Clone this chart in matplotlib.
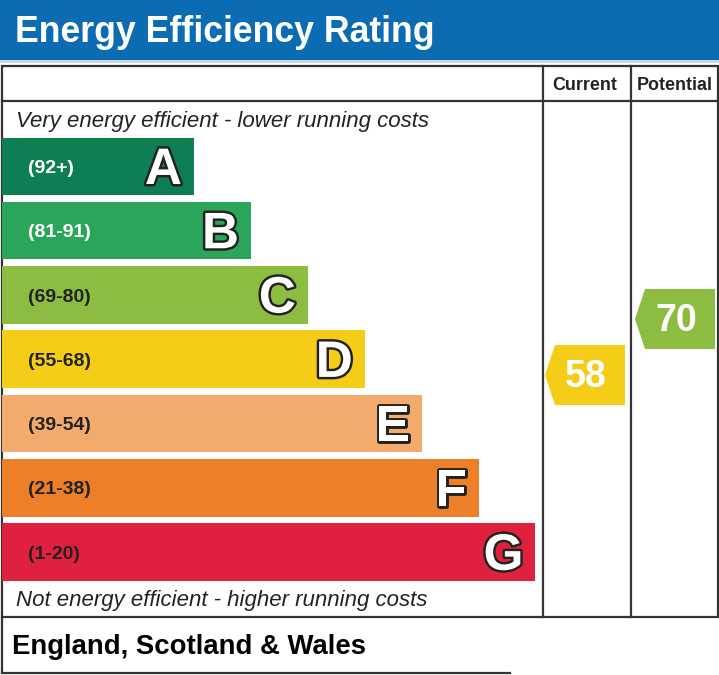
import matplotlib
matplotlib.use('Agg')
import matplotlib.pyplot as plt
from matplotlib.patches import Rectangle, Polygon
import matplotlib.patheffects as pe

# bandas EPC
LETTERS = ["A", "B", "C", "D", "E", "F", "G"]
RANGES = ["(92+)", "(81-91)", "(69-80)", "(55-68)", "(39-54)", "(21-38)", "(1-20)"]
COLORS = ["#0e7f52", "#2aa55a", "#8cbd41", "#f5cc17", "#f3aa6d", "#ec7f28", "#e0213d"]
RANGE_TEXT_COLORS = ["white", "white", "#222222", "#222222", "#222222", "#222222", "#222222"]

CURRENT = 58
POTENTIAL = 70
CURRENT_COLOR = "#f5cc17"
POTENTIAL_COLOR = "#8cbd41"

TITLE = "Energy Efficiency Rating"
FOOTER = "England, Scotland & Wales"

W, H = 719, 675
FONT = "Liberation Sans"
EDGE = "#333333"

fig = plt.figure(figsize=(W / 100, H / 100), dpi=100)
ax = fig.add_axes([0, 0, 1, 1])
ax.set_xlim(0, W)
ax.set_ylim(H, 0)
ax.axis('off')

# cabecera azul
ax.add_patch(Rectangle((0, 0), W, 60, color="#0b6cb4", lw=0))
ax.add_patch(Rectangle((0, 60), W, 3, color="#c9d6e3", lw=0))
ax.text(15, 42, TITLE, color="white", fontsize=25.7, fontweight='bold',
        family=FONT, va='baseline', ha='left')

# tabla
ax.add_patch(Rectangle((1.5, 66), 716, 551, fill=False, ec=EDGE, lw=1.6))
ax.plot([1.5, 717.5], [101, 101], color=EDGE, lw=1.6)
ax.plot([542.5, 542.5], [66, 617], color=EDGE, lw=1.6)
ax.plot([630.5, 630.5], [66, 617], color=EDGE, lw=1.6)
ax.text(585, 90, "Current", fontsize=12.9, fontweight='bold', family=FONT,
        ha='center', va='baseline', color="#222222")
ax.text(674.5, 90, "Potential", fontsize=12.9, fontweight='bold', family=FONT,
        ha='center', va='baseline', color="#222222")

ax.text(16, 127, "Very energy efficient - lower running costs", fontsize=16,
        style='italic', family=FONT, va='baseline', color="#222222")
ax.text(16, 606, "Not energy efficient - higher running costs", fontsize=16,
        style='italic', family=FONT, va='baseline', color="#222222")

# barras
for i, (letter, rng, col, tcol) in enumerate(zip(LETTERS, RANGES, COLORS, RANGE_TEXT_COLORS)):
    top = 137.5 + 64.3 * i
    length = 192 + 56.9 * i
    ax.add_patch(Rectangle((2, top), length, 57.5, color=col, lw=0))
    yc = top + 29
    ax.text(28, yc + 6.5, rng, fontsize=14, fontweight='bold', family=FONT,
            color=tcol, va='baseline', ha='left')
    t = ax.text(2 + length - 12, yc + 17.5, letter, fontsize=37, fontweight='bold',
                family=FONT, color='white', va='baseline', ha='right')
    t.set_path_effects([pe.Stroke(linewidth=3.5, foreground='#222222'), pe.Normal()])


def value_y(v):
    # posicion vertical de la flecha segun el valor
    return 375 - (v - 58) * 56 / 12


def arrow(x0, x1, v, col):
    yc = value_y(v)
    pts = [(x0, yc), (x0 + 10, yc - 30), (x1, yc - 30), (x1, yc + 30), (x0 + 10, yc + 30)]
    ax.add_patch(Polygon(pts, closed=True, color=col, lw=0))
    ax.text((x0 + x1) / 2 + 1, yc + 12, str(v), fontsize=27, fontweight='bold',
            family=FONT, color='white', ha='center', va='baseline')


arrow(545, 625, CURRENT, CURRENT_COLOR)
arrow(635, 715, POTENTIAL, POTENTIAL_COLOR)

# pie
ax.plot([1.5, 1.5], [617, 673], color=EDGE, lw=1.6)
ax.plot([1.5, 510], [673, 673], color=EDGE, lw=1.6)
ax.text(12, 654, FOOTER, fontsize=19.8, fontweight='bold', family=FONT,
        va='baseline', ha='left', color='black')

fig.savefig("out.png", dpi=100)
